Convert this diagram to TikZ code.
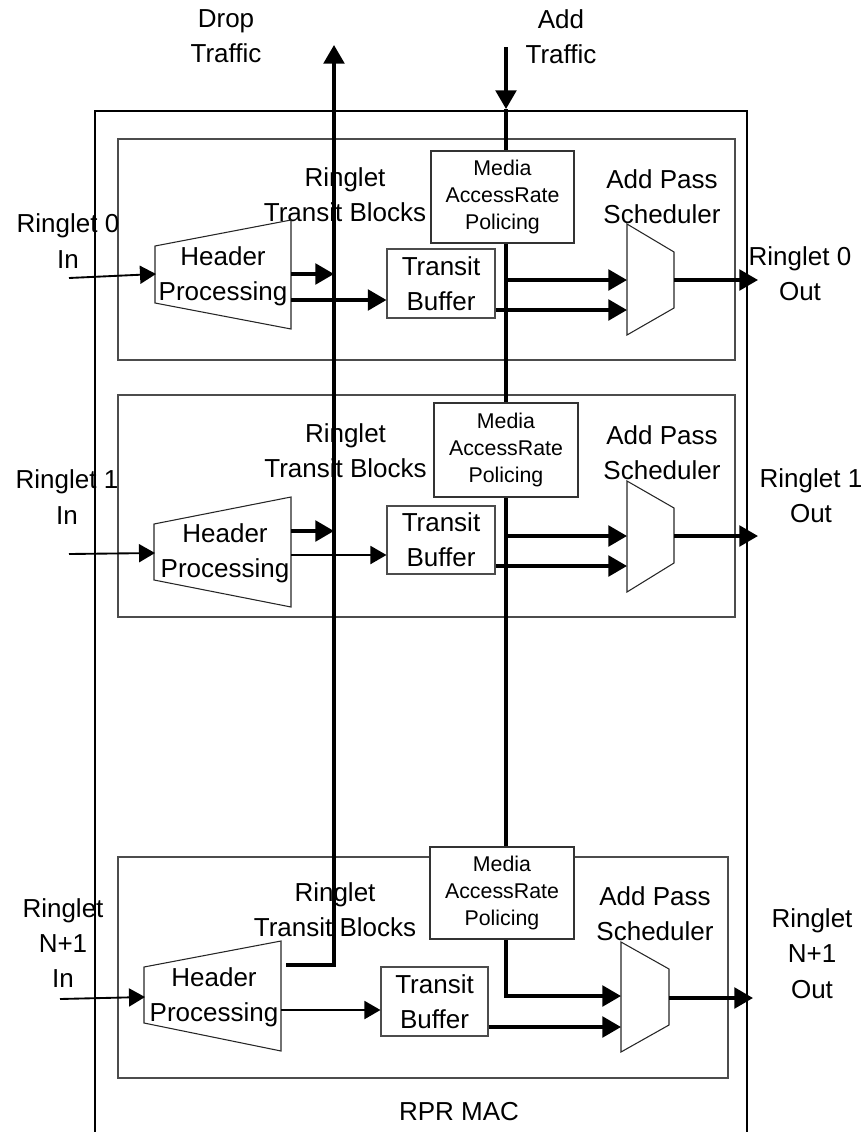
\documentclass[tikz,border=0pt]{standalone}
\usepackage{fontspec}
\setmainfont{Liberation Sans}
\usetikzlibrary{arrows.meta,calc,fit}
\begin{document}
\begin{tikzpicture}[x=0.75pt,y=-0.75pt,
 txt/.style={font=\fontsize{19.5}{26.5}\selectfont, align=center, inner sep=0pt},
 smalltxt/.style={font=\fontsize{16}{20.6}\selectfont, align=center, inner sep=0pt},
 ibox/.style={draw=black!70, line width=0.8pt, inner sep=0pt},
 mbox/.style={draw=black!80, fill=white, line width=0.8pt, inner sep=0pt},
 tbox/.style={draw=black!70, line width=0.8pt, inner sep=0pt},
 shapeline/.style={draw=black!85, line width=0.8pt},
 frame/.style={draw=black, line width=0.8pt},
 thickarr/.style={line width=2.6pt, -{Triangle[length=14pt,width=15.5pt]}},
 thinarr/.style={line width=1.4pt, -{Triangle[length=12pt,width=13.5pt]}},
]
\useasboundingbox (0,0) rectangle (865,1132);

% outer RPR MAC frame (open at the bottom)
\draw[frame] (95,1132) -- (95,111) -- (747,111) -- (747,1132);

% inner ringlet boxes
\node[ibox, fit={(118,139) (735,360)}] (ib1) {};
\node[ibox, fit={(118,395) (735,617)}] (ib2) {};
\node[ibox, fit={(118,857) (728,1078)}] (ib3) {};

% top / bottom labels
\node[txt] (drop) at (226,36.5) {Drop\\Traffic};
\node[txt] (add) at (561,36.5) {Add\\Traffic};
\node[txt] (rpr) at (459,1112) {RPR MAC};

% ---------- block 1 ----------
\node[txt] (rtb1) at (345,194.5) {Ringlet\\Transit Blocks};
\node[txt] (aps1) at (662,196.5) {Add Pass\\Scheduler};
\node[txt] (in0) at (68,241) {Ringlet 0\\In};
\node[txt] (out0) at (800,274) {Ringlet 0\\Out};
\node[txt] (hp1) at (223,276) {Header\\Processing};
\draw[shapeline] (155,246) -- (291,220) -- (291,329) -- (155,303) -- cycle;
\draw[shapeline] (627,224) -- (674,252) -- (674,308) -- (627,335) -- cycle;
\node[tbox, fit={(387,249) (495,318)}] (tb1) {};
\node[txt] (tb1t) at (tb1.center) {Transit\\Buffer};

% ---------- block 2 ----------
\node[txt] (rtb2) at (345.5,450.5) {Ringlet\\Transit Blocks};
\node[txt] (aps2) at (662,452.5) {Add Pass\\Scheduler};
\node[txt] (in1) at (67,497) {Ringlet 1\\In};
\node[txt] (out1) at (811,495.5) {Ringlet 1\\Out};
\node[txt] (hp2) at (225,553.5) {Header\\Processing};
\draw[shapeline] (154,524) -- (291,497) -- (291,607) -- (154,580) -- cycle;
\draw[shapeline] (627,481) -- (674,508) -- (674,563) -- (627,592) -- cycle;
\node[tbox, fit={(387,506) (495,574)}] (tb2) {};
\node[txt] (tb2t) at (tb2.center) {Transit\\Buffer};

% ---------- block 3 ----------
\node[txt] (rtb3) at (335,910) {Ringlet\\Transit Blocks};
\node[txt] (aps3) at (655,913.5) {Add Pass\\Scheduler};
\node[txt] (inN) at (63,943) {Ringlet\\N+1\\In};
\node[txt] (outN) at (812,953.5) {Ringlet\\N+1\\Out};
\node[txt] (hp3) at (214,997) {Header\\Processing};
\draw[shapeline] (144,967) -- (281,941) -- (281,1051) -- (144,1023) -- cycle;
\draw[shapeline] (621,942) -- (669,969) -- (669,1025) -- (621,1052) -- cycle;
\node[tbox, fit={(381,967) (488,1036)}] (tb3) {};
\node[txt] (tb3t) at (tb3.center) {Transit\\Buffer};

% ports
\coordinate (hp1in) at (156,274); \coordinate (hp1o1) at (291,274); \coordinate (hp1o2) at (291,300);
\coordinate (hp2in) at (155,553); \coordinate (hp2o1) at (291,531); \coordinate (hp2o2) at (291,555);
\coordinate (hp3in) at (145,997); \coordinate (hp3o1) at (286,965); \coordinate (hp3o2) at (281,1010);
\coordinate (s1a) at (627,280); \coordinate (s1b) at (627,310); \coordinate (s1o) at (674,280);
\coordinate (s2a) at (627,536); \coordinate (s2b) at (627,566); \coordinate (s2o) at (674,536);
\coordinate (s3a) at (621,996); \coordinate (s3b) at (621,1027); \coordinate (s3o) at (669,998);
\coordinate (src0) at (69,278); \coordinate (src1) at (69,554); \coordinate (srcN) at (60,999);
\coordinate (dst0) at (758,280); \coordinate (dst1) at (758,536); \coordinate (dstN) at (753,998);
\coordinate (droptop) at (334,45); \coordinate (dropcorner) at (334,965);
\coordinate (addtop) at (506,47); \coordinate (addin) at (506,109); \coordinate (addcorner) at (506,996);
\coordinate (d1) at (334,274); \coordinate (d2) at (334,531);
\coordinate (a1) at (506,280); \coordinate (a2) at (506,536);

% drop and add traffic buses
\draw[thickarr] (hp3o1) -- (dropcorner) -- (droptop);
\draw[thickarr] (addtop) -- (addin);
\draw[thickarr] (addin) -- (addcorner) -- (s3a);

% media access rate policing boxes (white, over the add bus)
\node[mbox, fit={(431,151) (574,243)}] (m1) {};
\node[smalltxt] (m1t) at (m1.center) {Media\\AccessRate\\Policing};
\node[mbox, fit={(434,403) (578,497)}] (m2) {};
\node[smalltxt] (m2t) at (m2.center) {Media\\AccessRate\\Policing};
\node[mbox, fit={(430,847) (574,939)}] (m3) {};
\node[smalltxt] (m3t) at (m3.center) {Media\\AccessRate\\Policing};

% block 1 connectors
\draw[thinarr] (src0) -- (hp1in);
\draw[thickarr] (hp1o1) -- (d1);
\draw[thickarr] (hp1o2) -- (tb1.west |- hp1o2);
\draw[thickarr] (a1) -- (s1a);
\draw[thickarr] (tb1.east |- s1b) -- (s1b);
\draw[thickarr] (s1o) -- (dst0);

% block 2 connectors
\draw[thinarr] (src1) -- (hp2in);
\draw[thickarr] (hp2o1) -- (d2);
\draw[thinarr] (hp2o2) -- (tb2.west |- hp2o2);
\draw[thickarr] (a2) -- (s2a);
\draw[thickarr] (tb2.east |- s2b) -- (s2b);
\draw[thickarr] (s2o) -- (dst1);

% block 3 connectors
\draw[thinarr] (srcN) -- (hp3in);
\draw[thinarr] (hp3o2) -- (tb3.west |- hp3o2);
\draw[thickarr] (tb3.east |- s3b) -- (s3b);
\draw[thickarr] (s3o) -- (dstN);
\end{tikzpicture}
\end{document}
